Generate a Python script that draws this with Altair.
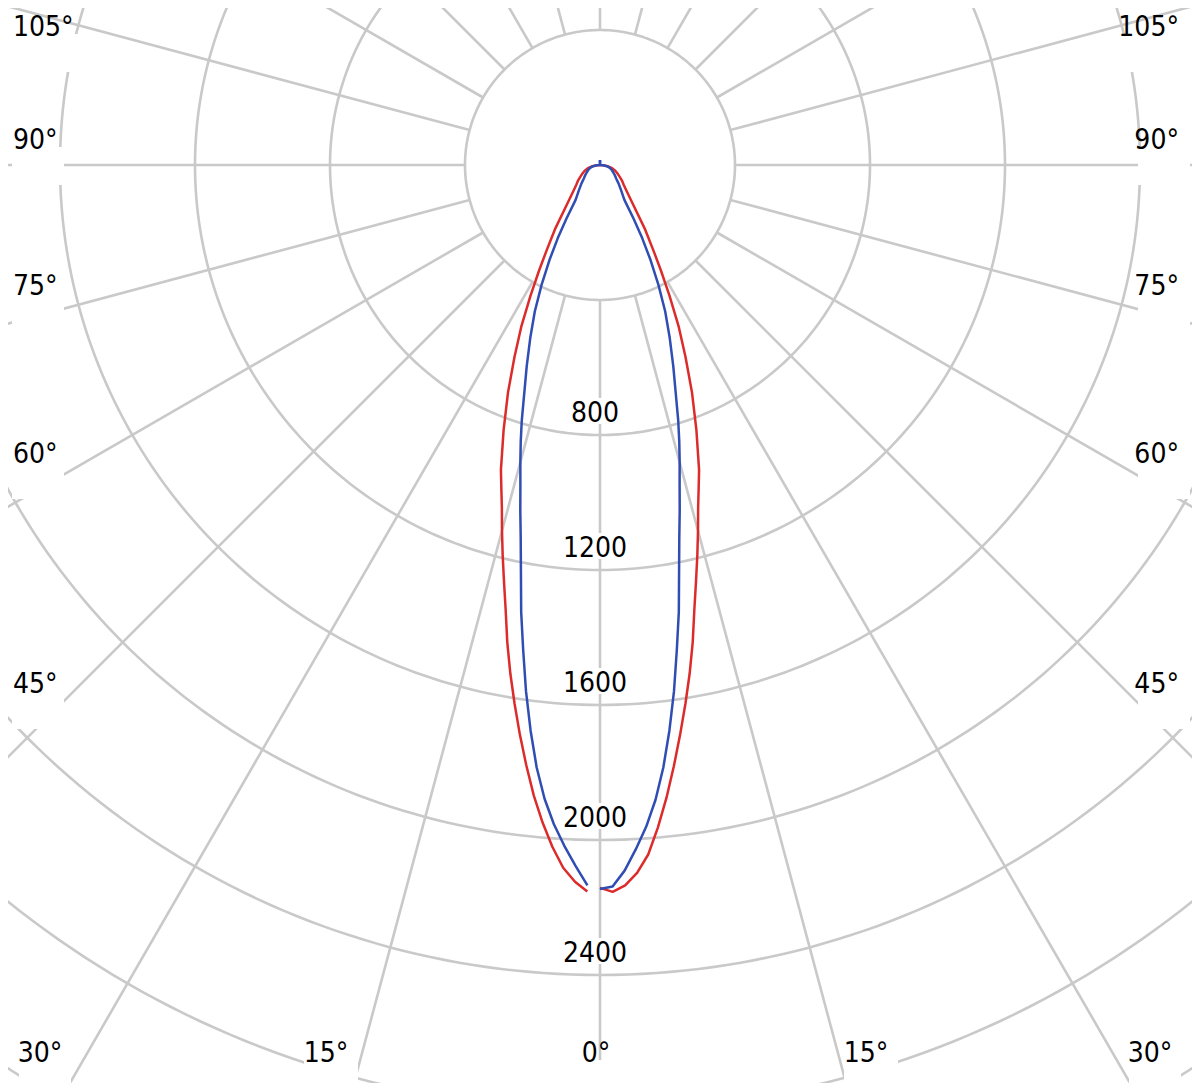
import altair as alt
import pandas as pd

# ---------------- data (candela vs. gamma angle, degrees) ----------------
gamma = [0, 1, 2, 3, 4, 5, 6, 7, 8, 9, 10, 11, 12, 13, 14, 15, 16, 17, 18, 20,
         22, 24, 26, 28, 30, 32, 35, 40, 45, 50, 55, 60, 65, 70, 75, 80, 85, 90, 180]
gamma_left = gamma[1:]

red_right = [2142, 2154, 2136, 2100, 2048, 1970, 1885, 1795, 1705, 1617, 1530, 1440,
             1345, 1265, 1192, 1122, 1055, 1000, 950, 835, 728, 623, 531, 439, 361,
             299, 233, 152, 114, 92, 79, 66, 56, 47, 37, 26, 13, 0, 0]
red_left = [2153, 2125, 2085, 2025, 1955, 1878, 1792, 1705, 1617, 1530, 1440,
            1345, 1265, 1192, 1122, 1055, 1000, 950, 835, 728, 623, 531, 439, 361,
            299, 233, 152, 114, 92, 79, 66, 56, 47, 37, 26, 13, 0, 0]

blue_right = [2145, 2138, 2092, 2030, 1965, 1888, 1795, 1688, 1575, 1455, 1345, 1228,
              1130, 1050, 975, 912, 852, 793, 732, 635, 551, 475, 395, 319, 250,
              188, 126, 97, 78, 63, 54, 46, 40, 35, 28, 20, 10, 0, 15]
blue_left = [2135, 2078, 2020, 1958, 1885, 1795, 1688, 1575, 1455, 1345, 1228,
             1130, 1050, 975, 912, 852, 793, 732, 635, 551, 475, 395, 319, 250,
             188, 126, 97, 78, 63, 54, 46, 40, 35, 28, 20, 10, 0, 15]

grid_values = [400, 800, 1200, 1600, 2000, 2400, 2800, 3200, 3600]
spoke_angles = list(range(0, 360, 15))
value_labels = [800, 1200, 1600, 2000, 2400]

angle_text = ["105°", "90°", "75°", "60°", "45°", "30°",
              "105°", "90°", "75°", "60°", "45°", "30°",
              "15°", "0°", "15°"]

# ---------------- layout (page pixels) ----------------
PX = 400 / 135.0          # candela per pixel
CX, CY = 600, 165         # polar centre on the page
W, H = 1184, 1075         # plot size (page has 8px margin)
XMIN, XMAX = (8 - CX) * PX, (8 + W - CX) * PX
YMAX, YMIN = (CY - 8) * PX, (CY - 8 - H) * PX

angle_x = [13, 13, 13, 13, 13, 40, 1179, 1179, 1179, 1179, 1179, 1150, 326, 596, 866]
angle_align = ["left"] * 5 + ["center"] + ["right"] * 5 + ["center"] * 4
angle_base = [36, 149, 295, 463, 693, 1062, 36, 149, 295, 463, 693, 1062, 1062, 1062, 1062]
angle_w = [55, 40, 40, 40, 40, 40, 55, 40, 40, 40, 40, 40, 42, 27, 42]

GRID = "#c9c9c9"
RED = "#dc2b2b"
BLUE = "#2f4db3"
FONT = "DejaVu Sans Condensed, DejaVu Sans"
FS = 28

xs = alt.Scale(domain=[XMIN, XMAX], nice=False, zero=False)
ys = alt.Scale(domain=[YMIN, YMAX], nice=False, zero=False)

# ---------------- grid ----------------
circ_rows = [{"r": r, "a": a} for r in grid_values for a in range(0, 361, 1)]
circles = alt.Chart(pd.DataFrame(circ_rows)).transform_calculate(
    x="datum.r * sin(datum.a * PI / 180)",
    y="-datum.r * cos(datum.a * PI / 180)",
).mark_line(clip=True, color=GRID, strokeWidth=2.6).encode(
    x=alt.X("x:Q", scale=xs, axis=None),
    y=alt.Y("y:Q", scale=ys, axis=None),
    detail="r:N",
    order="a:Q",
)

spoke_rows = [{"a": a, "r": r} for a in spoke_angles for r in (grid_values[0], 4500)]
spokes = alt.Chart(pd.DataFrame(spoke_rows)).transform_calculate(
    x="datum.r * sin(datum.a * PI / 180)",
    y="-datum.r * cos(datum.a * PI / 180)",
).mark_line(clip=True, color=GRID, strokeWidth=2.6).encode(
    x=alt.X("x:Q", scale=xs, axis=None),
    y=alt.Y("y:Q", scale=ys, axis=None),
    detail="a:N",
    order="r:Q",
)

# ---------------- value labels ----------------
vdf = pd.DataFrame({"v": value_labels, "t": [str(v) for v in value_labels]})
vbox = alt.Chart(vdf).transform_calculate(
    n="length(datum.t)",
).transform_calculate(
    x=f"(-5 - (datum.n * 14 / 2 + 3)) * {PX}",
    x2=f"(-5 + (datum.n * 14 / 2 + 3)) * {PX}",
    y=f"-datum.v + 11 * {PX}",
    y2=f"-datum.v + 37 * {PX}",
).mark_rect(color="white", clip=True).encode(
    x=alt.X("x:Q", scale=xs, axis=None), x2="x2:Q",
    y=alt.Y("y:Q", scale=ys, axis=None), y2="y2:Q",
)
vtext = alt.Chart(vdf).transform_calculate(
    x=f"-5 * {PX}",
    y=f"-datum.v + 13 * {PX}",
).mark_text(font=FONT, fontSize=FS, color="#000", baseline="alphabetic", align="center").encode(
    x=alt.X("x:Q", scale=xs, axis=None),
    y=alt.Y("y:Q", scale=ys, axis=None),
    text="t:N",
)

# ---------------- angle labels ----------------
adf = pd.DataFrame({"t": angle_text, "px": angle_x, "al": angle_align,
                    "base": angle_base, "w": angle_w})
abox = alt.Chart(adf).transform_calculate(
    left="datum.al == 'left' ? datum.px : (datum.al == 'right' ? datum.px - datum.w : datum.px - datum.w / 2)",
).transform_calculate(
    x=f"(datum.left - 1 - {CX}) * {PX}",
    x2=f"(datum.left + datum.w + 11 - {CX}) * {PX}",
    y=f"({CY} - datum.base + 2) * {PX}",
    y2=f"({CY} - datum.base - 36) * {PX}",
).mark_rect(color="white", clip=True).encode(
    x=alt.X("x:Q", scale=xs, axis=None), x2="x2:Q",
    y=alt.Y("y:Q", scale=ys, axis=None), y2="y2:Q",
)


def atext(al):
    return alt.Chart(adf).transform_filter(f"datum.al == '{al}'").transform_calculate(
        x=f"(datum.px - {CX}) * {PX}",
        y=f"({CY} - datum.base) * {PX}",
    ).mark_text(font=FONT, fontSize=FS, color="#000", baseline="alphabetic", align=al).encode(
        x=alt.X("x:Q", scale=xs, axis=None),
        y=alt.Y("y:Q", scale=ys, axis=None),
        text="t:N",
    )


# ---------------- curves ----------------
def curve_df(left, right):
    rows = [{"side": -1, "g": g, "cd": c} for g, c in zip(gamma_left, left)]
    rows += [{"side": 1, "g": g, "cd": c} for g, c in zip(gamma, right)]
    return pd.DataFrame(rows)


def curve(df, color):
    return alt.Chart(df).transform_calculate(
        x="datum.side * datum.cd * sin(datum.g * PI / 180)",
        y="-datum.cd * cos(datum.g * PI / 180)",
    ).mark_line(clip=True, color=color, strokeWidth=2.5, strokeJoin="round").encode(
        x=alt.X("x:Q", scale=xs, axis=None),
        y=alt.Y("y:Q", scale=ys, axis=None),
        detail="side:N",
        order="g:Q",
    )


red = curve(curve_df(red_left, red_right), RED)
blue = curve(curve_df(blue_left, blue_right), BLUE)

chart = alt.layer(
    circles, spokes, vbox, abox, vtext, atext("left"), atext("center"), atext("right"), red, blue
).properties(
    width=W, height=H, padding=0, autosize=alt.AutoSizeParams(type="none"), background="white"
).configure_view(stroke=None)

chart.save("out.html", embed_options={"renderer": "svg", "actions": False})
